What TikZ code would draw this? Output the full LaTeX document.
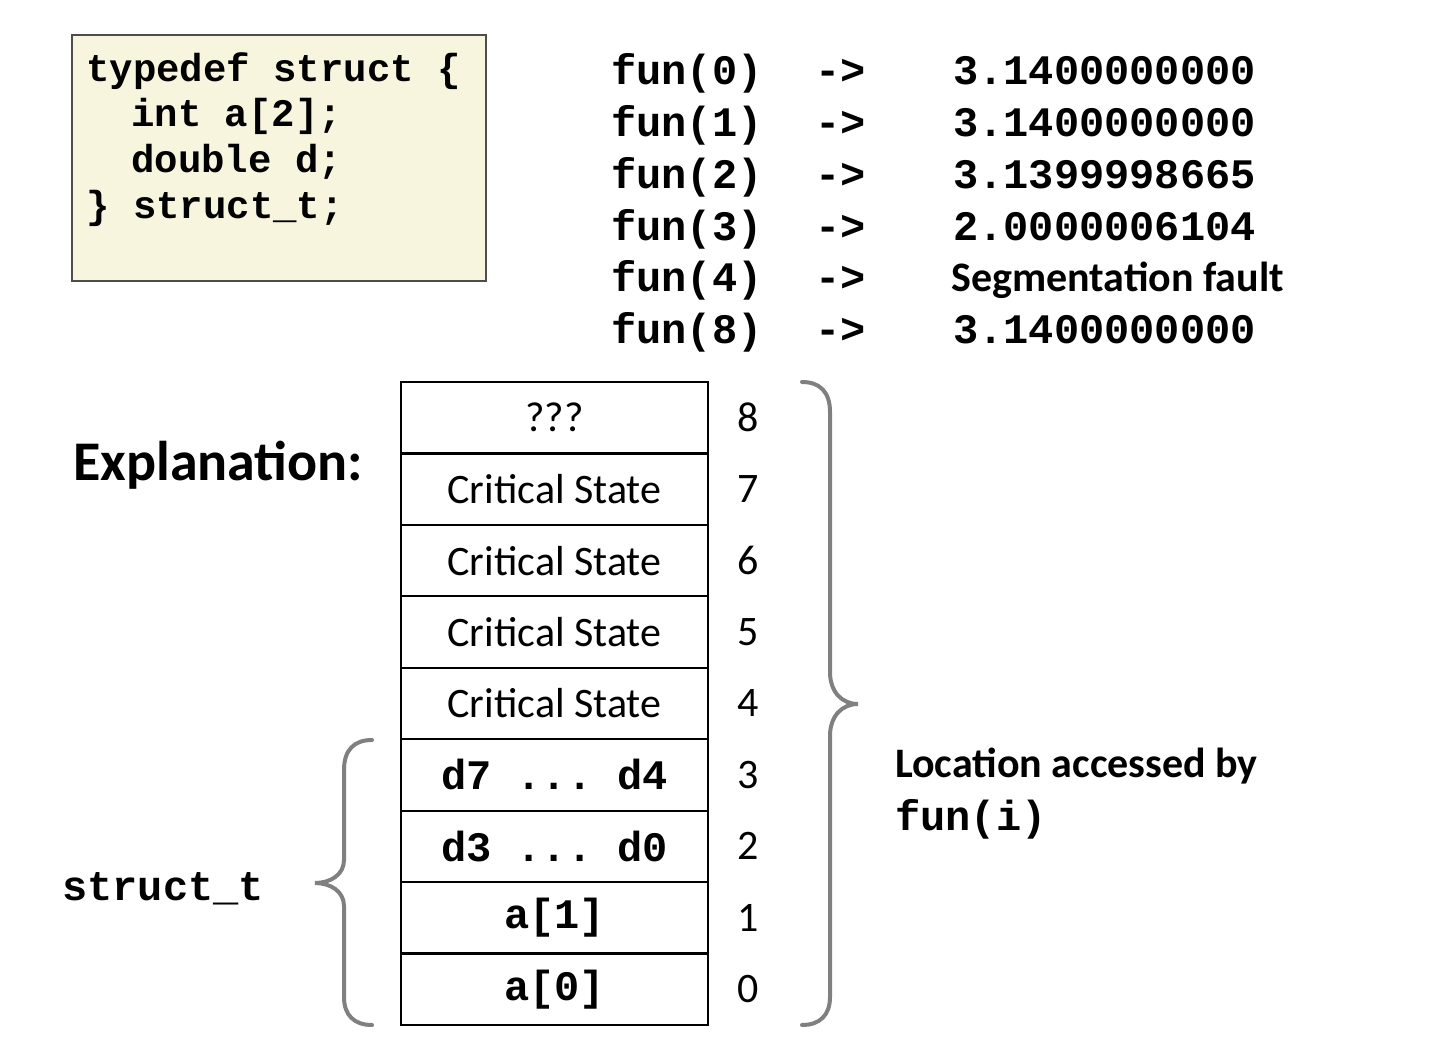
\documentclass[tikz,border=0pt]{standalone}
\usepackage{fontspec}
\setmainfont{Carlito}
\setmonofont{Liberation Mono}
\definecolor{codebg}{HTML}{F7F5DE}
\definecolor{codeframe}{HTML}{4D4D4D}
\definecolor{bracegray}{HTML}{808080}
\tikzset{
  code/.style={font=\fontsize{39}{46}\selectfont\ttfamily\bfseries, anchor=base west, inner sep=0pt},
  call/.style={font=\fontsize{42}{50}\selectfont\ttfamily\bfseries, anchor=base west, inner sep=0pt},
  cell/.style={draw, line width=2.2pt, minimum width=307pt, minimum height=71.44pt, inner sep=0pt, font=\fontsize{42}{50}\selectfont},
  celltt/.style={cell, font=\fontsize{42}{50}\selectfont\ttfamily\bfseries},
  idx/.style={font=\fontsize{42}{50}\selectfont, inner sep=0pt},
  curly/.style={draw=bracegray, line width=4pt, line cap=round},
}
\begin{document}
\begin{tikzpicture}[x=1pt,y=-1pt]
\useasboundingbox (0,0) rectangle (1454,1046);

% code box
\node[draw=codeframe, line width=1.3pt, fill=codebg, minimum width=414pt, minimum height=246pt, inner sep=0pt] (codebox) at (279,158) {};
\node[code] (c1) at (86,82) {typedef struct \{};
\node[code] (c2) at (131,127) {int a[2];};
\node[code] (c3) at (131,172) {double d;};
\node[code] (c4) at (86,218) {\} struct\_t;};

% calls and results
\foreach \n/\v/\y in {0/3.1400000000/85, 1/3.1400000000/137, 2/3.1399998665/188, 3/2.0000006104/240, 8/3.1400000000/343}{
  \node[call] (fun\n) at (611,\y) {fun(\n)};
  \node[call] (arr\n) at (815,\y) {->};
  \node[call] (val\n) at (953,\y) {\v};
}
\node[call] (fun4) at (611,291) {fun(4)};
\node[call] (arr4) at (815,291) {->};
\node[font=\fontsize{42}{50}\selectfont\bfseries, anchor=base west, inner sep=0pt] (val4) at (951,291) {Segmentation fault};

\node[font=\fontsize{56}{64}\selectfont\bfseries, anchor=base west, inner sep=0pt] (expl) at (73,480) {Explanation:};

% memory layout
\node[cell] (row8) at (554.5,417.7) {???};
\foreach \k in {7,6,5,4}{
  \node[cell] (row\k) at (554.5,{417.7+(8-\k)*71.44}) {Critical State};
}
\node[celltt] (row3) at (554.5,{417.7+5*71.44}) {d7 ... d4};
\node[celltt] (row2) at (554.5,{417.7+6*71.44}) {d3 ... d0};
\node[celltt] (row1) at (554.5,{417.7+7*71.44}) {a[1]};
\node[celltt] (row0) at (554.5,{417.7+8*71.44}) {a[0]};
\foreach \k in {0,...,8}{
  \node[idx] (idx\k) at (748,{417.7+(8-\k)*71.44}) {\k};
}

% braces
\draw[curly] (372,740) .. controls (354,740) and (344,750) .. (344,770)
  -- (344,860) .. controls (344,875) and (330,883) .. (315,883)
  .. controls (330,883) and (344,891) .. (344,906)
  -- (344,997) .. controls (344,1015) and (354,1025) .. (372,1025);
\draw[curly] (802,382) .. controls (820,382) and (830,392) .. (830,412)
  -- (830,672) .. controls (830,692) and (842,704) .. (858,704)
  .. controls (842,704) and (830,716) .. (830,736)
  -- (830,997) .. controls (830,1015) and (820,1025) .. (802,1025);

\node[call] (structlbl) at (62,900) {struct\_t};
\node[font=\fontsize{42}{50}\selectfont\bfseries, anchor=base west, inner sep=0pt] (loc) at (895,777) {Location accessed by};
\node[call] (funi) at (895,830) {fun(i)};
\end{tikzpicture}
\end{document}
